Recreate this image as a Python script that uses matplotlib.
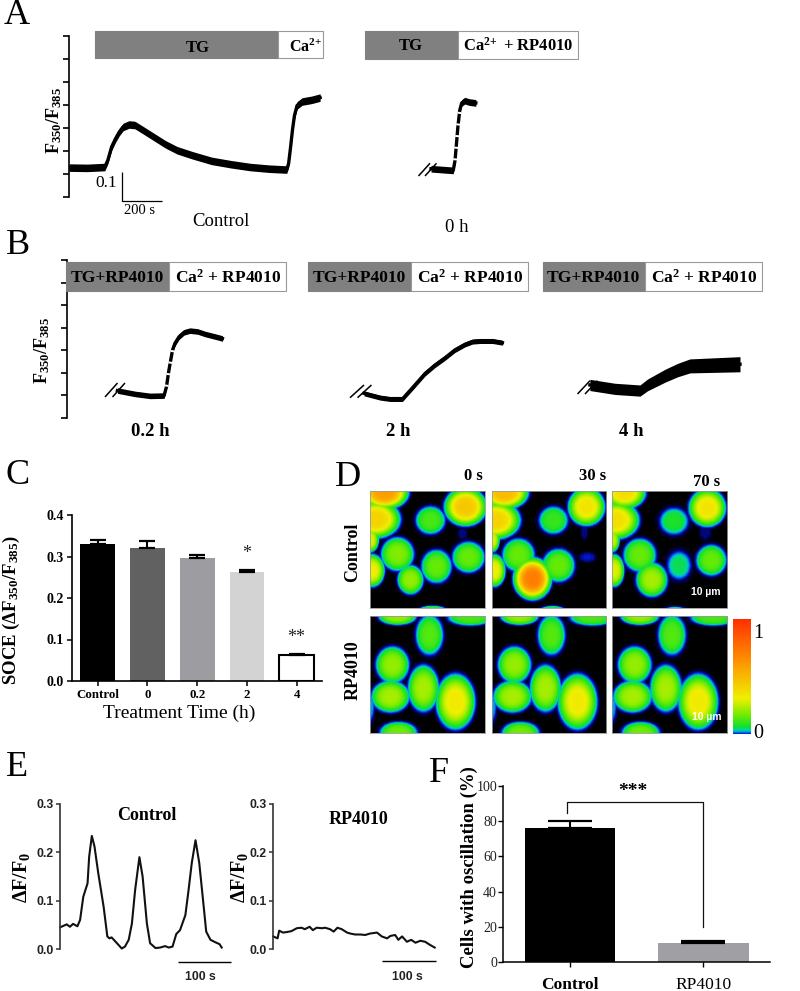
import numpy as np
import matplotlib
matplotlib.use("Agg")
import matplotlib.pyplot as plt
from matplotlib.colors import LinearSegmentedColormap
from matplotlib.patches import Rectangle

W, H = 800, 991
SERIF = "Liberation Serif"
SANS = "Liberation Sans"

plt.rcParams["font.family"] = [SERIF, "DejaVu Sans"]
plt.rcParams["mathtext.fontset"] = "custom"
plt.rcParams["mathtext.rm"] = SERIF
plt.rcParams["mathtext.bf"] = SERIF + ":bold"
plt.rcParams["mathtext.default"] = "regular"

# panel A traces (time in s, F350/F385)
ctrl_t = [0, 90, 177, 192, 211, 230, 249, 268, 297, 326, 364, 421, 478, 535, 611, 706, 802, 897, 992, 1078,
          1087, 1097, 1106, 1116, 1129, 1154, 1201, 1243]
ctrl_v = [.105, .104, .107, .131, .179, .208, .232, .250, .259, .257, .240, .214, .188, .167, .149, .129, .117,
          .107, .101, .098, .119, .179, .238, .291, .327, .341, .347, .355]
h0_t = [1792, 1902, 1911, 1925, 1934, 1944, 1959, 1982, 2014]
h0_v = [.101, .095, .131, .250, .309, .336, .344, .339, .336]

# panel B traces
h02_t = [252, 339, 413, 483, 495, 507, 525, 537, 557, 582, 611, 649, 686, 735, 772]
h02_v = [.098, .086, .079, .080, .112, .171, .243, .267, .290, .306, .312, .309, .300, .291, .284]
h2_t = [1473, 1552, 1601, 1663, 1725, 1775, 1824, 1874, 1923, 1973, 2010, 2047, 2109, 2158]
h2_v = [.088, .073, .068, .068, .118, .159, .189, .215, .243, .263, .273, .275, .275, .269]
h4_t = [2591, 2715, 2839, 2876, 2963, 3025, 3086, 3210, 3334]
h4_v = [.118, .104, .098, .118, .151, .171, .186, .189, .192]
h4_noise = [.020, .020, .020, .021, .023, .024, .025, .026, .027]

# panel C
soce_labels = ["Control", "0", "0.2", "2", "4"]
soce_vals = [.33, .32, .297, .263, .063]
soce_err = [.010, .017, .007, .004, .003]
soce_colors = ["#000000", "#616161", "#9d9da1", "#d3d3d3", "#ffffff"]

# panel D: cells as (x, y, rx, ry, peak) in image pixels
ctrl_0s = [(14, 2, 19, 13, .6), (5, 28, 20, 15, .42), (60, 29, 13, 12, .14), (95, 16, 17, 15, .46),
           (0, 48, 7, 10, .3), (27, 62, 14, 14, .2), (66, 74, 13, 14, .17), (98, 65, 14, 13, .17),
           (2, 78, 10, 13, .32), (40, 87, 11, 12, .22), (62, 118, 13, 5, .18), (92, 42, 4, 5, .015)]
ctrl_30s = [(12, 2, 19, 13, .5), (3, 29, 20, 15, .42), (61, 29, 13, 12, .12), (94, 16, 15, 15, .36),
            (0, 48, 6, 10, .3), (26, 63, 14, 14, .17), (66, 73, 14, 14, .17), (40, 86, 15, 16, .72),
            (2, 78, 9, 13, .32), (92, 40, 3, 7, .015), (95, 65, 7, 4, .02), (60, 118, 12, 5, .14)]
ctrl_70s = [(12, 2, 17, 13, .38), (3, 29, 19, 15, .38), (61, 30, 13, 12, .09), (94, 17, 15, 15, .36),
            (0, 48, 6, 10, .27), (27, 63, 14, 14, .17), (66, 73, 11, 13, .07), (98, 68, 13, 13, .17),
            (39, 87, 13, 14, .24), (2, 78, 8, 13, .3), (92, 40, 5, 7, .015), (62, 119, 12, 5, .14)]
rp_cells = [(27, 1, 16, 7, .22), (59, 19, 12, 17, .15), (100, 2, 20, 7, .14), (22, 48, 14, 15, .22),
            (53, 71, 13, 19, .24), (85, 84, 16, 22, .34), (20, 79, 16, 13, .24), (0, 88, 4, 15, .04),
            (28, 114, 16, 9, .18)]
frame_titles = ["0 s", "30 s", "70 s"]

# panel E
osc_t = [0, 6, 12, 18, 24, 32, 37, 43, 51, 54, 59, 64, 71, 81, 88, 92, 96, 106, 115, 121, 128, 134, 140,
         148, 154, 162, 168, 178, 187, 196, 203, 210, 217, 224, 234, 240, 246, 253, 260, 267, 273, 281, 290, 298, 302]
osc_v = [.045, .048, .051, .046, .052, .047, .060, .108, .136, .191, .234, .212, .157, .088, .026, .022, .024,
         .012, .001, .005, .019, .053, .122, .190, .150, .053, .012, .002, .003, .006, .003, .005, .031, .039,
         .070, .122, .178, .225, .178, .102, .036, .019, .014, .010, .003]
rp_t = [0, 8, 11, 18, 25, 34, 44, 53, 59, 68, 74, 81, 91, 97, 106, 113, 120, 128, 138, 144, 153, 163, 172,
        181, 194, 203, 213, 219, 228, 234, 241, 250, 258, 266, 275, 284, 294, 302]
rp_v = [.026, .022, .038, .034, .035, .037, .043, .044, .041, .046, .039, .044, .043, .044, .041, .036, .044,
        .041, .034, .032, .030, .030, .029, .032, .034, .026, .022, .027, .029, .019, .026, .015, .019, .013,
        .017, .015, .008, .003]

# panel F
osc_labels = ["Control", "RP4010"]
osc_vals = [76, 11]
osc_err = [4, 1]
osc_colors = ["#000000", "#a0a0a4"]

fig = plt.figure(figsize=(W / 100, H / 100), dpi=100, facecolor="white")


def px_axes(left, top, right, bottom):
    return fig.add_axes([left / W, 1 - bottom / H, (right - left) / W, (bottom - top) / H])


def draw_trace(ax, t, v, noise, rise=None):
    t = np.array(t)
    v = np.array(v)
    ax.fill_between(t, v - noise, v + noise, color="black", lw=0)
    ax.plot(t, v, color="black", lw=2.4)
    if rise:
        ax.plot(t[rise[0]:rise[1]], v[rise[0]:rise[1]], color="white", lw=2.8, ls=(0, (0.5, 2.5)))


def trace_axes(left, top, right, bottom, xmax, ymax, step):
    ax = px_axes(left, top, right, bottom)
    ax.patch.set_visible(False)
    ax.set_xlim(0, xmax)
    ax.set_ylim(0, ymax)
    ax.set_yticks(np.arange(8) * step)
    ax.set_yticklabels([])
    ax.set_xticks([])
    for s in ("top", "right", "bottom"):
        ax.spines[s].set_visible(False)
    ax.spines["left"].set_linewidth(1.2)
    ax.tick_params(axis="y", length=4, width=1.2)
    return ax


# A
ax_a = trace_axes(69, 36, 590, 197, 2579, .575, .0821)
draw_trace(ax_a, ctrl_t, ctrl_v, .0135)
draw_trace(ax_a, h0_t, h0_v, .012, rise=(2, 5))

# B
ax_b = trace_axes(66.5, 260, 760, 418, 3433, .564, .0806)
draw_trace(ax_b, h02_t, h02_v, .010, rise=(4, 7))
draw_trace(ax_b, h2_t, h2_v, .009)
draw_trace(ax_b, h4_t, h4_v, np.array(h4_noise))

# C
ax_c = px_axes(72.3, 515, 322, 681)
x_c = np.arange(len(soce_vals))
ax_c.bar(x_c, soce_vals, width=.7, color=soce_colors, edgecolor="black", linewidth=[0, 0, 0, 0, 1.5])
ax_c.errorbar(x_c, soce_vals, yerr=[np.zeros(5), soce_err], fmt="none", ecolor="black",
              elinewidth=1.5, capsize=5.8, capthick=1.6)
ax_c.set_xlim(-.512, 4.51)
ax_c.set_ylim(0, .4)
ax_c.set_yticks([0, .1, .2, .3, .4])
ax_c.set_yticklabels(["0.0", "0.1", "0.2", "0.3", "0.4"], fontweight="bold", fontsize=10)
ax_c.set_xticks(x_c)
ax_c.set_xticklabels(soce_labels, fontweight="bold", fontsize=9.3)
ax_c.tick_params(length=3.5, width=1.1, pad=2.5)
ax_c.spines[["top", "right"]].set_visible(False)
ax_c.spines[["left", "bottom"]].set_linewidth(1.2)

# D
cmap = LinearSegmentedColormap.from_list("cells", [
    (0, "#000000"), (.008, "#000050"), (.02, "#0018d0"), (.035, "#0090f0"), (.05, "#00d8a0"), (.075, "#10e030"),
    (.18, "#70ec00"), (.32, "#f0f000"), (.65, "#ff9000"), (1, "#ff3000")])


def render_cells(cells, size=115):
    yy, xx = np.mgrid[0:size, 0:size]
    img = np.zeros((size, size))
    for cx, cy, rx, ry, peak in cells:
        d = np.sqrt(((xx - cx) / rx) ** 2 + ((yy - cy) / ry) ** 2)
        body = peak * np.exp(-d ** 4)
        halo = min(peak, .02) * np.exp(-(d / 1.3) ** 4)
        img = np.maximum(img, np.maximum(body, halo))
    return img


d_columns = [(370, 485), (491.7, 606), (611.7, 726.7)]
d_rows = [((490.7, 608), [ctrl_0s, ctrl_30s, ctrl_70s]), ((615.7, 733), [rp_cells, rp_cells, rp_cells])]
for (top, bottom), frames in d_rows:
    for (left, right), cells in zip(d_columns, frames):
        ax_d = px_axes(left, top, right, bottom)
        ax_d.imshow(render_cells(cells), cmap=cmap, vmin=0, vmax=1, aspect="auto", interpolation="bilinear")
        ax_d.set_xticks([])
        ax_d.set_yticks([])
        for s in ax_d.spines.values():
            s.set_color("#999999")
            s.set_linewidth(.6)

ax_bar = px_axes(733, 619, 751, 734)
ax_bar.imshow(np.linspace(1, .02, 256)[:, None], cmap=cmap, vmin=0, vmax=1, aspect="auto")
ax_bar.axis("off")

# E
ax_e1 = px_axes(60.3, 804, 172, 949)
ax_e2 = px_axes(273.3, 804, 385, 949)
for ax, t, v in ((ax_e1, osc_t, osc_v), (ax_e2, rp_t, rp_v)):
    ax.plot(t, v, color="#111111", lw=1.5, clip_on=False)
    ax.set_xlim(0, 209)
    ax.set_ylim(0, .3)
    ax.set_xticks([])
    ax.set_yticks([0, .1, .2, .3])
    ax.set_yticklabels(["0.0", "0.1", "0.2", "0.3"], family=SANS, fontweight="bold", fontsize=8.8, color="#222222")
    ax.tick_params(axis="y", length=3, width=1.1, pad=2, color="#333333")
    ax.spines[["top", "right", "bottom"]].set_visible(False)
    ax.spines["left"].set_linewidth(1.2)
    ax.spines["left"].set_color("#333333")
    ax.patch.set_visible(False)

# F
ax_f = px_axes(503.3, 785.7, 770, 962.3)
x_f = np.arange(2)
ax_f.bar(x_f, osc_vals, width=.68, color=osc_colors)
ax_f.errorbar(x_f, osc_vals, yerr=[[0, 0], osc_err], fmt="none", ecolor="black",
              elinewidth=1.5, capsize=15.5, capthick=1.6)
ax_f.plot([-.02, -.02, 1, 1], [84.3, 90.6, 90.6, 20.2], color="#111111", lw=.9)
ax_f.set_xlim(-.5, 1.5)
ax_f.set_ylim(0, 100)
ax_f.set_yticks([0, 20, 40, 60, 80, 100])
ax_f.set_yticklabels(["0", "20", "40", "60", "80", "100"], fontsize=10, color="#222222")
ax_f.set_xticks(x_f)
ax_f.set_xticklabels(osc_labels, fontsize=12.5)
ax_f.get_xticklabels()[0].set_fontweight("bold")
ax_f.tick_params(length=3.5, width=1, pad=7)
ax_f.tick_params(axis="y", pad=1)
ax_f.spines[["top", "right"]].set_visible(False)
ax_f.spines[["left", "bottom"]].set_linewidth(1.1)

# overlay in image pixels for boxes, scale bars and free labels
ov = fig.add_axes([0, 0, 1, 1], zorder=10)
ov.set_xlim(0, W)
ov.set_ylim(H, 0)
ov.axis("off")


def label(x, y, s, size, weight="normal", rotation=0, color="black", family=SERIF):
    ov.text(x, y, s, fontsize=size, fontweight=weight, rotation=rotation, color=color, family=family,
            ha="center", va="center")


def box(left, right, top, bottom, gray):
    ov.add_patch(Rectangle((left, top), right - left, bottom - top, facecolor="#808080" if gray else "white",
                           edgecolor="#808080" if gray else "#999999", lw=.8))


def line(xs, ys, lw=1.0, color="black"):
    ov.plot(xs, ys, color=color, lw=lw, solid_capstyle="butt")


for letter, x, y in [("A", 17, 15), ("B", 18, 245), ("C", 18, 475), ("D", 348, 477), ("E", 17, 767), ("F", 439, 774)]:
    label(x, y, letter, 26)

box(95, 278, 31, 58, True)
box(278, 323, 31, 58, False)
box(365, 458, 31, 59, True)
box(458, 578, 31, 59, False)
label(198, 48, "TG", 12, "bold")
label(306, 47, r"Ca$^{2\!+}$", 11.5, "bold")
label(411, 46, "TG", 12, "bold")
label(518, 46, r"Ca$^{2\!+}$ + RP4010", 12, "bold")
label(54, 120, "F$_{350}$/F$_{385}$", 13, "bold", 90)
line([121.5, 121.5, 162], [172, 200.5, 200.5], .9)
label(106, 183, "0.1", 12.5)
label(140, 211, "200 s", 10.5)
label(221, 221, "Control", 13.5)
label(457, 227, "0 h", 13.5)

for left, mid, right in [(66, 169, 286), (307.5, 410.5, 528), (542.5, 645, 762)]:
    box(left, mid, 262, 291, True)
    box(mid, right, 262, 291, False)
    label((left + mid) / 2, 278, "TG+RP4010", 12.6, "bold")
    label((mid + right) / 2 + 1, 278, "Ca$^{2}$ + RP4010", 12.6, "bold")
label(42.5, 350, "F$_{350}$/F$_{385}$", 13, "bold", 90)
label(150, 431, "0.2 h", 13.5, "bold")
label(398.5, 431, "2 h", 13.5, "bold")
label(631.5, 431, "4 h", 13.5, "bold")

breaks = [(418.5, 176, 430, 163.3), (425, 176, 436.5, 163.3), (105, 397, 117.5, 383), (112.5, 397, 125, 383),
          (350, 397.7, 364, 385), (357.5, 397.7, 371.5, 385), (577.5, 394, 590, 380.7), (585, 394, 597.5, 380.7)]
for x0, y0, x1, y1 in breaks:
    line([x0, x1], [y0, y1], 1.1)

label(11, 610, "SOCE (ΔF$_{350}$/F$_{385}$)", 13.5, "bold", 90)
label(179, 713, "Treatment Time (h)", 14)
label(247, 554, "*", 13, color="#222222")
label(296, 637, "**", 13, color="#222222")

for (x, y, s) in zip([473, 593, 707], [476, 476, 482], frame_titles):
    label(x, y, s, 12, "bold")
label(353, 552, "Control", 13, "bold", 90)
label(353, 670, "RP4010", 13, "bold", 90)
label(706, 592, "10 µm", 7.5, "bold", color="white", family=SANS)
label(707, 717, "10 µm", 7.5, "bold", color="white", family=SANS)
label(758, 634, "1", 14.5)
label(758, 734, "0", 14.5)

label(147, 816, "Control", 13, "bold")
label(359, 820, "RP4010", 13, "bold")
label(22, 877, "ΔF/F$_{0}$", 14.5, "bold", 90)
label(239, 877, "ΔF/F$_{0}$", 14.5, "bold", 90)
line([178, 231], [962, 962], 1)
label(200, 977, "100 s", 8.8, "bold", family=SANS, color="#222222")
line([382, 436], [961, 961], 1)
label(407, 977, "100 s", 8.8, "bold", family=SANS, color="#222222")

label(469, 867, "Cells with oscillation (%)", 13.5, "bold", 90)
label(633, 791, "***", 14, "bold")

fig.savefig("out.png", dpi=100)
